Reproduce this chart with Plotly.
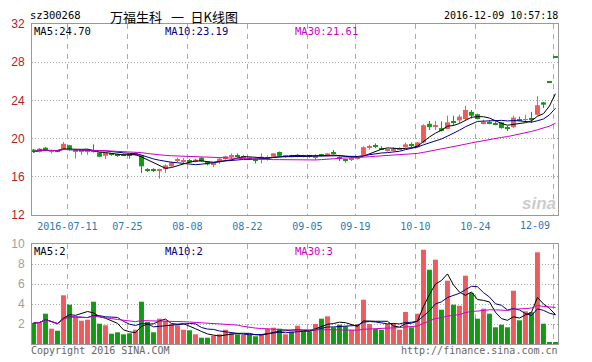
import plotly.graph_objects as go
import pandas as pd

# ---------------- data ----------------
open_ = [18.85, 18.6, 19.05, 18.6, 18.72, 18.9, 19.3, 18.6, 18.65, 18.6,
         18.7, 18.55, 18.2, 18.38, 18.3, 18.35, 18.3, 18.25, 18.25, 16.75,
         16.75, 16.65, 16.8, 17.1, 17.7, 17.65, 17.76, 17.6, 18.0, 17.6,
         17.35, 17.6, 17.85, 18.12, 18.25, 18.08, 18.0, 17.82, 17.8, 17.97,
         18.1, 18.6, 18.12, 18.18, 18.1, 18.2, 18.18, 18.1, 18.26, 18.25,
         18.48, 17.95, 17.75, 17.76, 17.9, 18.3, 19.05, 19.3, 19.0, 18.75,
         18.8, 18.88, 19.1, 19.35, 19.1, 19.6, 21.55, 21.3, 21.1, 21.0,
         21.8, 21.9, 22.05, 22.8, 22.55, 21.65, 21.65, 21.55, 21.7, 21.15,
         21.2, 21.95, 21.95, 22.1, 22.5, 23.8, 25.91, 28.5]
high = [18.9, 19.0, 19.1, 18.85, 18.8, 19.65, 19.35, 18.8, 18.8, 18.9,
        19.4, 18.6, 18.55, 18.45, 18.4, 18.45, 18.4, 18.55, 18.3, 16.9,
        16.9, 16.85, 17.3, 17.6, 18.0, 17.95, 17.85, 17.9, 18.05, 17.65,
        17.5, 17.95, 18.2, 18.45, 18.45, 18.3, 18.05, 17.9, 18.45, 18.25,
        18.5, 18.65, 18.3, 18.3, 18.4, 18.3, 18.3, 18.35, 18.4, 18.5,
        18.8, 18.15, 17.9, 18.05, 18.15, 19.2, 19.35, 19.5, 19.2, 18.95,
        19.1, 19.1, 19.6, 19.6, 19.65, 21.5, 21.85, 21.85, 21.8, 22.4,
        22.4, 22.5, 23.45, 23.0, 22.6, 22.0, 21.9, 21.8, 21.75, 21.35,
        22.4, 22.3, 22.5, 22.8, 24.45, 23.85, 25.91, 28.5]
low = [18.55, 18.55, 18.7, 18.45, 18.6, 18.85, 18.75, 17.9, 18.3, 18.3,
       18.55, 18.05, 17.85, 18.2, 18.1, 18.2, 17.9, 18.2, 16.4, 16.5,
       16.5, 15.8, 16.4, 17.0, 17.55, 17.45, 17.45, 17.5, 17.55, 17.2,
       17.0, 17.35, 17.8, 17.85, 18.0, 17.95, 17.75, 17.4, 17.4, 17.7,
       18.05, 18.15, 18.0, 18.05, 18.05, 18.05, 18.0, 17.75, 18.1, 18.2,
       18.35, 17.65, 17.5, 17.65, 17.8, 18.25, 18.85, 19.0, 18.8, 18.65,
       18.7, 18.8, 19.05, 19.1, 19.05, 19.5, 20.9, 20.9, 20.75, 21.0,
       21.4, 21.6, 21.95, 22.1, 22.0, 21.5, 21.5, 21.4, 21.05, 20.8,
       21.1, 21.8, 21.8, 21.65, 22.4, 23.2, 25.91, 28.5]
close = [18.6, 18.95, 18.75, 18.75, 18.68, 19.45, 18.8, 18.75, 18.7, 18.8,
         18.6, 18.1, 18.5, 18.3, 18.25, 18.3, 18.25, 18.5, 17.1, 16.7,
         16.7, 16.75, 17.2, 17.5, 17.75, 17.7, 17.5, 17.8, 17.62, 17.3,
         17.4, 17.9, 18.15, 18.17, 18.2, 18.12, 17.8, 17.78, 18.1, 18.02,
         18.45, 18.2, 18.17, 18.13, 18.3, 18.15, 18.14, 18.12, 18.22, 18.45,
         18.45, 17.9, 17.7, 18.0, 18.1, 19.1, 19.15, 19.25, 18.85, 18.8,
         18.85, 18.95, 19.4, 19.25, 19.6, 21.4, 21.2, 21.4, 20.8, 21.7,
         21.75, 22.3, 23.0, 22.4, 22.05, 21.7, 21.6, 21.5, 21.1, 21.1,
         22.2, 21.9, 22.05, 22.05, 23.5, 23.55, 25.91, 28.5]
volume = [2.1, 2.2, 3.03, 1.53, 1.33, 4.87, 3.93, 2.67, 2.33, 2.43,
          4.23, 2.03, 1.87, 1.03, 1.17, 0.97, 1.07, 1.43, 4.23, 2.2,
          1.17, 2.53, 2.33, 2.0, 1.87, 1.43, 1.37, 0.97, 0.63, 0.63,
          0.83, 0.97, 1.43, 1.1, 0.97, 0.9, 0.9, 0.77, 0.97, 1.53,
          1.63, 1.53, 0.97, 1.23, 1.83, 1.27, 1.27, 2.0, 2.53, 2.77,
          1.67, 1.93, 1.77, 1.43, 2.0, 4.43, 2.0, 1.5, 1.43, 2.0,
          2.1, 1.43, 3.2, 1.67, 3.03, 9.43, 7.43, 8.43, 3.43, 6.33,
          3.93, 3.83, 6.83, 5.1, 2.53, 3.53, 3.03, 1.67, 1.93, 1.67,
          5.33, 2.37, 3.27, 3.17, 9.17, 2.03, 0.17, 0.17]

tick_idx = [6, 16, 26, 36, 46, 54, 64, 74, 87]
tick_labels = ["2016-07-11", "07-25", "08-08", "08-22", "09-05", "09-19",
               "10-10", "10-24", "12-09"]
price_ticks = [12, 16, 20, 24, 28, 32]
vol_ticks = [2, 4, 6, 8, 10]
price_ma_labels = ["MA5:24.70", "MA10:23.19", "MA30:21.61"]
vol_ma_labels = ["MA5:2", "MA10:2", "MA30:3"]

# ---------------- styling ----------------
RED = "#EF5B5B"
GREEN = "#129A12"
MA_COLORS = ["#000000", "#000088", "#CC00CC"]
MONO = "DejaVu Sans Mono"
GRID = "#AAAAAA"

n = len(close)
x = list(range(n))
colors = [RED if c > o else GREEN for o, c in zip(open_, close)]

MIN_BODY = 0.1
body_base, body_h = [], []
for o, c in zip(open_, close):
    lo, hi = min(o, c), max(o, c)
    if hi - lo < MIN_BODY:
        mid = (hi + lo) / 2
        lo, hi = mid - MIN_BODY / 2, mid + MIN_BODY / 2
    body_base.append(lo)
    body_h.append(hi - lo)

fig = go.Figure()

# wicks
for col in (RED, GREEN):
    wx, wy = [], []
    for i in range(n):
        if colors[i] == col and high[i] - low[i] > 0.01:
            wx += [i, i, None]
            wy += [low[i], high[i], None]
    fig.add_trace(go.Scatter(x=wx, y=wy, mode="lines", line=dict(color=col, width=1),
                             xaxis="x", yaxis="y", hoverinfo="skip"))

# bodies
fig.add_trace(go.Bar(x=x, y=body_h, base=body_base, width=0.82,
                     marker=dict(color=colors, line=dict(width=0)),
                     xaxis="x", yaxis="y"))

# price moving averages
cs = pd.Series(close)
for w, col in zip((5, 10, 30), MA_COLORS):
    fig.add_trace(go.Scatter(x=x, y=cs.rolling(w, min_periods=1).mean(), mode="lines",
                             line=dict(color=col, width=1), xaxis="x", yaxis="y"))

# volume
fig.add_trace(go.Bar(x=x, y=volume, width=0.82,
                     marker=dict(color=colors, line=dict(width=0)),
                     xaxis="x2", yaxis="y2"))
vs = pd.Series(volume)
for w, col in zip((5, 10, 30), MA_COLORS):
    fig.add_trace(go.Scatter(x=x, y=vs.rolling(w, min_periods=1).mean(), mode="lines",
                             line=dict(color=col, width=1), xaxis="x2", yaxis="y2"))

xr = [-0.25, 87.42]
grid_x = [t - 0.35 for t in tick_idx]
common_x = dict(range=xr, tickvals=grid_x, showgrid=True, gridcolor=GRID,
                griddash="5px,5px", gridwidth=1, showline=True, mirror=True,
                linecolor="#999999", linewidth=1, ticks="", zeroline=False,
                fixedrange=True, automargin=False)

# the page body has an 8px margin, so the figure is drawn 8px smaller/offset
fig.update_layout(
    width=584, height=354,
    margin=dict(l=24, r=34, t=16, b=18, autoexpand=False),
    paper_bgcolor="white", plot_bgcolor="white",
    showlegend=False, barmode="overlay",
    xaxis=dict(**common_x, anchor="y",
               ticktext=tick_labels[:-1] + [""], ticklabelstandoff=2,
               tickfont=dict(family=MONO, size=10, color="#2A7AB4")),
    yaxis=dict(domain=[0.4031, 1.0], range=[12, 32], tickvals=price_ticks,
               showgrid=True, gridcolor=GRID, griddash="1px,2px",
               showline=True, mirror=True, linecolor="#999999", ticks="",
               zeroline=False, ticklabelstandoff=4, automargin=False,
               tickfont=dict(family="Liberation Sans", size=12, color="#B8201E")),
    xaxis2=dict(**common_x, anchor="y2", showticklabels=False),
    yaxis2=dict(domain=[0.0, 0.3125], range=[0, 10], tickvals=vol_ticks,
                showgrid=True, gridcolor=GRID, griddash="1px,2px",
                showline=True, mirror=True, linecolor="#999999", ticks="",
                zeroline=False, ticklabelstandoff=4, automargin=False,
                tickfont=dict(family="Liberation Sans", size=12, color="#A0A0A0")),
)

PW = 526.0
PH = 320.0


def px(xp):
    return (xp - 32) / PW


def py(yp):
    return (344 - yp) / PH


ann = []
# last x tick label, kept inside the frame
ann.append(dict(text=tick_labels[-1], x=px(552), y=py(225), xanchor="right",
                yanchor="middle", font=dict(family=MONO, size=10, color="#2A7AB4")))
# MA labels
for lab, col, xp in zip(price_ma_labels, MA_COLORS, (32, 163, 293)):
    ann.append(dict(text=lab, x=px(xp), y=py(31), xanchor="left", yanchor="middle",
                    font=dict(family=MONO, size=10.5, color=col)))
for lab, col, xp in zip(vol_ma_labels, MA_COLORS, (32, 163, 293)):
    ann.append(dict(text=lab, x=px(xp), y=py(251), xanchor="left", yanchor="middle",
                    font=dict(family=MONO, size=10.5, color=col)))
# header
ann.append(dict(text="sz300268", x=px(28), y=py(15.5), xanchor="left", yanchor="middle",
                font=dict(family=MONO, size=10.5, color="#000000")))
ann.append(dict(text="万福生科\u2002\u2009一\u2002日K线图", x=px(109), y=py(16),
                xanchor="left", yanchor="middle", borderpad=0,
                font=dict(family="Noto Sans CJK SC", size=13, color="#000000")))
ann.append(dict(text="2016-12-09 10:57:18", x=px(560), y=py(15.5), xanchor="right",
                yanchor="middle", font=dict(family=MONO, size=10, color="#000000")))
# footer
ann.append(dict(text="Copyright 2016 SINA.COM", x=px(29), y=py(350), xanchor="left",
                yanchor="middle", font=dict(family=MONO, size=10, color="#666666")))
ann.append(dict(text="http://finance.sina.com.cn", x=px(560), y=py(350), xanchor="right",
                yanchor="middle", font=dict(family=MONO, size=10, color="#666666")))
# watermark
ann.append(dict(text="<b><i>sina</i></b>", x=px(558), y=py(203), xanchor="right",
                yanchor="middle", font=dict(family="Liberation Sans", size=17, color="#CCCCCC")))

for a in ann:
    a.update(xref="paper", yref="paper", showarrow=False)
fig.update_layout(annotations=ann)

fig.write_html("out.html")
